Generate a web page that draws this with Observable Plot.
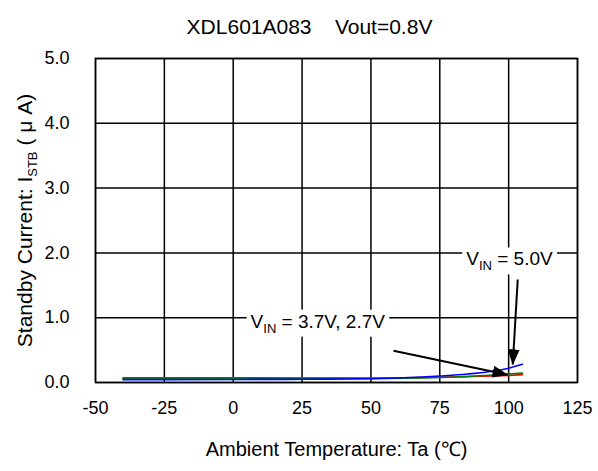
<!DOCTYPE html>
<html><head><meta charset="utf-8">
<script src="https://cdn.jsdelivr.net/npm/d3@7"></script>
<script src="https://cdn.jsdelivr.net/npm/@observablehq/plot@0.6"></script>
<style>
body{margin:0;background:#fff;font-family:"Liberation Sans",Arial,sans-serif;}
#chart svg{display:block;}
</style></head><body>
<div id="chart"></div>
<script>
// Data
const temps = [-40, -25, 0, 25, 50, 75, 85, 100, 105];
const vin50 = [0.045, 0.045, 0.047, 0.05, 0.058, 0.10, 0.13, 0.22, 0.28];
const vin37 = [0.072, 0.072, 0.072, 0.07, 0.068, 0.08, 0.09, 0.11, 0.12];
const vin27 = [0.062, 0.063, 0.065, 0.065, 0.062, 0.078, 0.092, 0.13, 0.145];
const seriesNames = ["3.7V", "2.7V", "5.0V"];
const seriesColors = ["#ff0000", "#008000", "#0000ff"];
const xTicks = [-50, -25, 0, 25, 50, 75, 100, 125];
const yTicks = [0, 1, 2, 3, 4, 5];
const titleText = "XDL601A083    Vout=0.8V";
const xLabel = "Ambient Temperature: Ta (℃)";
const yLabel = "Standby Current: I{STB} ( μ A)";
// annotations
const noteText = ["V{IN} = 5.0V", "V{IN} = 3.7V, 2.7V"];
const noteX = [100.3, 30.7];
const noteY = [1.9, 0.94];
const arrowX1 = [103.3, 58.2];
const arrowY1 = [1.59, 0.49];
const arrowX2 = [101.5, 99.6];
const arrowY2 = [0.28, 0.12];

const rows = [];
[vin37, vin27, vin50].forEach((vals, s) => temps.forEach((t, i) => rows.push({series: seriesNames[s], t, v: vals[i]})));
const notes = noteText.map((text, i) => ({text, x: noteX[i], y: noteY[i]}));
const arrows = arrowX1.map((x1, i) => ({x1, y1: arrowY1[i], x2: arrowX2[i], y2: arrowY2[i]}));

function triMarker(color) {
  const m = d3.create("svg:marker")
    .attr("viewBox", "0 -6 16 12")
    .attr("markerWidth", 16).attr("markerHeight", 12)
    .attr("markerUnits", "userSpaceOnUse")
    .attr("refX", 15).attr("refY", 0)
    .attr("orient", "auto");
  m.append("path").attr("d", "M0,-6L16,0L0,6Z").attr("fill", color).attr("stroke", "none");
  return m.node();
}

const chart = Plot.plot({
  width: 598, height: 471,
  marginTop: 58, marginBottom: 89, marginLeft: 95, marginRight: 21,
  style: {fontFamily: "'Liberation Sans', Arial, sans-serif", fontSize: "18px", color: "#000", background: "#fff"},
  x: {domain: [-50, 125], label: null},
  y: {domain: [0, 5], label: null},
  color: {domain: seriesNames, range: seriesColors},
  marks: [
    Plot.gridX(xTicks, {stroke: "#000", strokeOpacity: 1, strokeWidth: 1.5}),
    Plot.gridY(yTicks, {stroke: "#000", strokeOpacity: 1, strokeWidth: 1.5}),
    Plot.frame({stroke: "#000", strokeWidth: 1.5}),
    Plot.axisX(xTicks, {tickSize: 0, tickPadding: 19, fontSize: 18, tickFormat: d => String(d), label: null}),
    Plot.axisY(yTicks, {tickSize: 0, tickPadding: 26, fontSize: 18, tickFormat: d3.format(".1f"), label: null}),
    Plot.line(rows, {x: "t", y: "v", z: "series", stroke: "series", strokeWidth: 1.6, curve: "monotone-x"}),
    Plot.link(arrows, {x1: "x1", y1: "y1", x2: "x2", y2: "y2", stroke: "#000", strokeWidth: 2, markerEnd: triMarker}),
    Plot.text(notes, {x: "x", y: "y", text: "text", fontSize: 19, fill: "#000", className: "note"}),
    Plot.text([titleText], {frameAnchor: "top", dx: -27, dy: -39, text: d => d, fontSize: 21, fill: "#000", className: "title"}),
    Plot.text([xLabel], {frameAnchor: "bottom", dy: 73, text: d => d, fontSize: 20, fill: "#000"}),
    Plot.text([yLabel], {frameAnchor: "left", textAnchor: "middle", dx: -70, rotate: -90, text: d => d, fontSize: 21, fill: "#000"})
  ]
});
document.getElementById("chart").appendChild(chart);
d3.select(chart).selectAll("g.title text").style("white-space", "pre").attr("xml:space", "preserve");

// subscripts
d3.select(chart).selectAll("text").each(function () {
  const el = d3.select(this);
  const s = el.text();
  if (!s.includes("{")) return;
  const parts = s.split(/(\{[^}]*\})/).filter(p => p.length);
  el.text("");
  let sub = false;
  parts.forEach(p => {
    if (p.startsWith("{")) {
      el.append("tspan").attr("font-size", "13px").attr("dy", "5px").text(p.slice(1, -1));
      sub = true;
    } else {
      const t = el.append("tspan").text(p);
      if (sub) { t.attr("dy", "-5px"); sub = false; }
    }
  });
});
// white boxes behind annotation labels
d3.select(chart).selectAll("g.note text").each(function () {
  const b = this.getBBox();
  const tr = this.getAttribute("transform");
  const r = document.createElementNS("http://www.w3.org/2000/svg", "rect");
  r.setAttribute("x", b.x - 4); r.setAttribute("y", b.y - 1);
  r.setAttribute("width", b.width + 8); r.setAttribute("height", b.height + 2);
  r.setAttribute("fill", "#fff");
  if (tr) r.setAttribute("transform", tr);
  this.parentNode.insertBefore(r, this);
});
</script>
</body></html>
